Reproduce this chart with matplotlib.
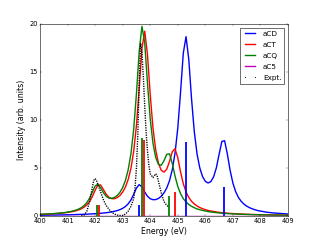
import numpy as np
import matplotlib
matplotlib.use("Agg")
import matplotlib.pyplot as plt
from matplotlib.lines import Line2D

plt.style.use('classic')

# energy grid (eV) for the broadened spectra
energy = np.round(np.arange(400.0, 409.001, 0.1), 1)

# broadened spectra
acd = np.array([8, 8, 9, 9, 10, 10, 10, 11, 11, 12,
                13, 13, 14, 15, 16, 17, 18, 19, 21, 22,
                24, 26, 28, 31, 34, 38, 43, 49, 56, 66,
                80, 99, 127, 167, 225, 291, 327, 303, 250, 206,
                180, 170, 171, 183, 206, 241, 292, 368, 482, 654,
                915, 1287, 1696, 1868, 1629, 1219, 876, 645, 499, 410,
                361, 344, 358, 408, 502, 643, 777, 784, 644, 475,
                343, 254, 194, 153, 124, 103, 87, 75, 65, 57,
                51, 46, 41, 37, 34, 31, 29, 27, 25, 23,
                21]) / 100.0
act = np.array([17, 18, 19, 20, 22, 24, 26, 28, 30, 34,
                37, 42, 47, 54, 63, 75, 92, 116, 151, 202,
                268, 323, 323, 276, 227, 195, 181, 180, 191, 214,
                249, 302, 380, 496, 673, 943, 1326, 1746, 1925, 1682,
                1264, 917, 687, 549, 476, 457, 488, 568, 669, 701,
                607, 460, 337, 251, 193, 153, 125, 104, 88, 76,
                66, 58, 52, 47, 42, 38, 35, 32, 29, 27,
                25, 24, 22, 21, 19, 18, 17, 16, 15, 14,
                14, 13, 12, 12, 11, 11, 10, 10, 9, 9,
                9]) / 100.0
acq = np.array([0.18, 0.19, 0.20, 0.22, 0.23, 0.25, 0.27, 0.30, 0.33, 0.36,
                0.41, 0.46, 0.53, 0.61, 0.72, 0.87, 1.09, 1.40, 1.86, 2.49,
                3.12, 3.32, 2.94, 2.43, 2.06, 1.87, 1.84, 1.93, 2.13, 2.46,
                2.96, 3.70, 4.81, 6.48, 9.03, 12.74, 17.15, 19.76, 18.05, 13.87,
                10.11, 7.58, 6.08, 5.37, 5.29, 5.76, 6.43, 6.48, 5.48, 4.16,
                3.08, 2.33, 1.81, 1.46, 1.20, 1.01, 0.86, 0.74, 0.65, 0.58,
                0.52, 0.46, 0.42, 0.38, 0.35, 0.32, 0.30, 0.27, 0.25, 0.24,
                0.22, 0.21, 0.19, 0.18, 0.17, 0.16, 0.15, 0.14, 0.14, 0.13,
                0.12, 0.12, 0.11, 0.11, 0.10, 0.10, 0.09, 0.09, 0.09, 0.08,
                0.08])
ac5 = np.zeros(len(energy))

# experimental spectrum
expt_e = [401.5, 401.6, 401.7, 401.8, 401.9, 401.95, 402.0, 402.05, 402.1, 402.2,
          402.3, 402.4, 402.5, 402.6, 402.7, 402.8, 402.9, 403.0, 403.1, 403.2,
          403.3, 403.4, 403.45, 403.5, 403.55, 403.6, 403.65, 403.7, 403.75, 403.8,
          403.85, 403.9, 403.95, 404.0, 404.1, 404.2, 404.25, 404.3, 404.4, 404.5,
          404.6, 404.7]
expt_i = [0.0, 0.1, 0.5, 1.5, 3.0, 3.7, 3.9, 3.7, 3.3, 2.5,
          1.7, 1.1, 0.7, 0.4, 0.2, 0.1, 0.05, 0.05, 0.2, 0.5,
          1.0, 1.8, 3.0, 5.0, 8.5, 14.0, 18.0, 17.0, 14.5, 11.5,
          8.8, 6.8, 5.3, 4.4, 4.0, 4.4, 4.2, 3.6, 2.4, 1.5,
          1.1, 0.9]

# stick transitions
acd_pos = [403.60, 405.29, 406.66]
acd_int = [1.15, 7.75, 3.07]
act_pos = [402.14, 403.79, 404.89]
act_int = [1.15, 7.96, 2.48]
acq_pos = [402.07, 403.71, 404.68]
acq_int = [1.15, 8.17, 2.13]

fig = plt.figure(figsize=(8, 6), dpi=40)
ax = fig.add_subplot(111)

lw = 2.5
ax.plot(energy, acd, color='b', lw=lw)
ax.plot(energy, act, color='r', lw=lw)
ax.plot(energy, acq, color='g', lw=lw)
ax.plot(energy, ac5, color='m', lw=lw)
ax.plot(expt_e, expt_i, color='k', lw=2.5, ls=(0, (2.2, 2.2)))

ax.vlines(acd_pos, 0, acd_int, color='b', lw=3.2)
ax.vlines(act_pos, 0, act_int, color='r', lw=3.2)
ax.vlines(acq_pos, 0, acq_int, color='g', lw=3.2)

ax.set_xlim(400, 409)
ax.set_ylim(0, 20)
ax.set_xticks(np.arange(400, 410, 1))
ax.set_yticks([0, 5, 10, 15, 20])
ax.ticklabel_format(useOffset=False, axis='x')
ax.set_xlabel("Energy (eV)", fontsize=14)
ax.set_ylabel("Intensity (arb. units)", fontsize=14)

handles = [Line2D([], [], color='b', lw=lw),
           Line2D([], [], color='r', lw=lw),
           Line2D([], [], color='g', lw=lw),
           Line2D([], [], color='m', lw=lw),
           Line2D([], [], color='k', marker='.', ls='none', markersize=3)]
ax.legend(handles, ['aCD', 'aCT', 'aCQ', 'aC5', 'Expt.'], loc='upper right',
          numpoints=2, fontsize=13, labelspacing=0.7)

fig.savefig("out.png", dpi=40)
